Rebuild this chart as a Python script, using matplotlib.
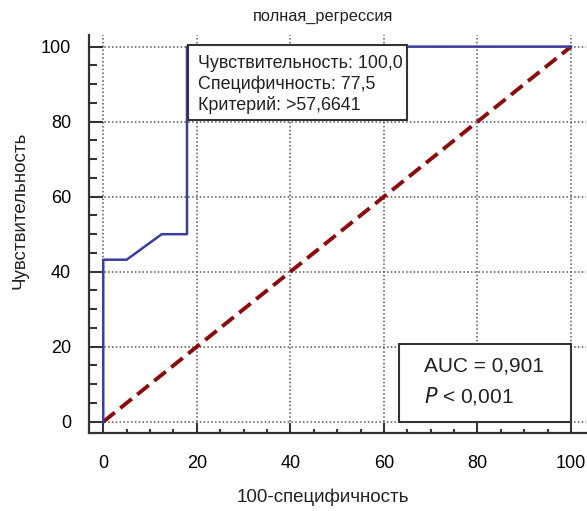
import matplotlib
matplotlib.use("Agg")
import matplotlib.pyplot as plt
from matplotlib.ticker import MultipleLocator
from matplotlib.patches import Rectangle

plt.rcParams['font.family'] = ['Liberation Sans', 'DejaVu Sans']

# Data
roc_x = [0, 0, 5, 12.5, 17.9, 17.9, 100]
roc_y = [0, 43.2, 43.2, 50, 50, 100, 100]
diag_x = [0, 100]
diag_y = [0, 100]

title = "полная_регрессия"
xlabel = "100-специфичность"
ylabel = "Чувствительность"
box1_lines = ["Чувствительность: 100,0", "Специфичность: 77,5", "Критерий: >57,6641"]
auc_text = "AUC = 0,901"
p_text = r"$\it{P}$" + " < 0,001"

fig = plt.figure(figsize=(5.87, 5.11), dpi=100)
ax = fig.add_axes([89/587, 78/511, (586-89)/587, (433-35)/511])

ax.plot(diag_x, diag_y, color='#8b0c0c', lw=2.8, linestyle=(0, (3.8, 1.8)), zorder=3,
        dash_capstyle='butt')
ax.plot(roc_x, roc_y, color='#3a3d9e', lw=1.8, zorder=4)

ax.set_xlim(-3.05, 103.2)
ax.set_ylim(-3.0, 103.1)

for s in ['top', 'right']:
    ax.spines[s].set_visible(False)
for s in ['left', 'bottom']:
    ax.spines[s].set_linewidth(1.6)
    ax.spines[s].set_color('#333333')

ax.xaxis.set_major_locator(MultipleLocator(20))
ax.xaxis.set_minor_locator(MultipleLocator(5))
ax.yaxis.set_major_locator(MultipleLocator(20))
ax.yaxis.set_minor_locator(MultipleLocator(5))
ax.tick_params(axis='x', which='major', direction='in', length=7.5, width=1.5, color='#333333',
               pad=16, labelsize=13)
ax.tick_params(axis='x', which='minor', direction='in', length=3, width=1.5, color='#333333')
ax.tick_params(axis='y', which='major', direction='in', length=10, width=1.5, color='#333333',
               pad=13, labelsize=13)
ax.tick_params(axis='y', which='minor', direction='in', length=5.5, width=1.5, color='#333333')

ax.grid(True, which='major', linestyle=(0, (1, 1.5)), color='#555555', lw=1.1)
ax.set_axisbelow(True)

# Box 1
r1 = Rectangle((18.1, 80.5), 65.0 - 18.1, 20.0, facecolor='white', edgecolor='#333333',
               lw=1.5, zorder=5)
ax.add_patch(r1)
for yv, line in zip([95.6, 90.0, 84.5], box1_lines):
    ax.text(20.2, yv, line, fontsize=12.9, va='center', ha='left', zorder=6, color='#222222')

# Box 2
r2 = Rectangle((63.3, 0), 100 - 63.3, 20.7, facecolor='white', edgecolor='#333333',
               lw=1.5, zorder=5)
ax.add_patch(r2)
ax.text(68.5, 14.8, auc_text, fontsize=15, va='center', ha='left', zorder=6, color='#222222')
ax.text(68.5, 6.8, p_text, fontsize=15, va='center', ha='left', zorder=6, color='#222222')

fig.text(323/587, 1 - 17/511, title, fontsize=11.8, ha='center', va='center', color='#222222')
fig.text(323/587, 1 - 497/511, xlabel, fontsize=13.5, ha='center', va='center', color='#222222')
fig.text(20/587, 1 - 210/511, ylabel, fontsize=13.5, ha='center', va='center', rotation=90,
         color='#222222')

fig.savefig("out.png", dpi=100)
